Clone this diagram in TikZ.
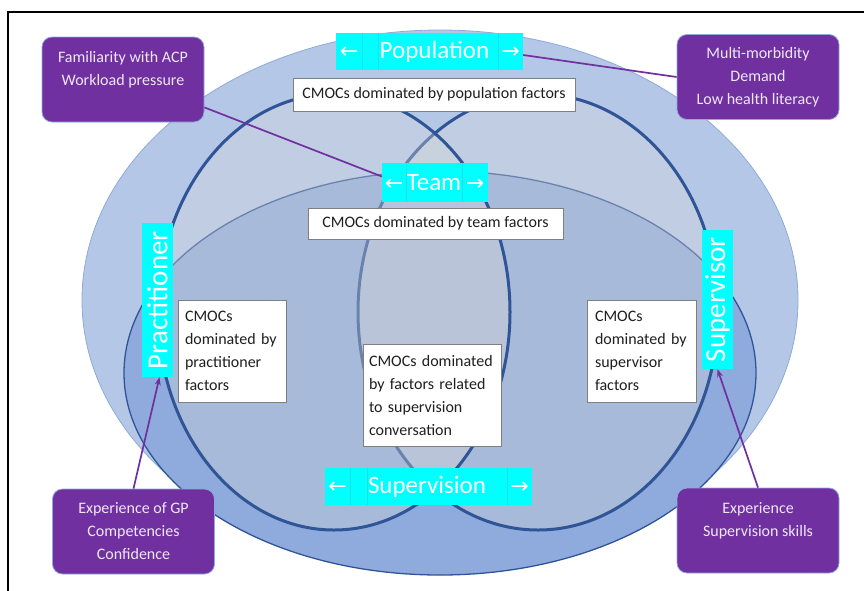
\documentclass[tikz,border=0pt]{standalone}
\usepackage{fontspec}
\setmainfont{Carlito}
\newfontfamily\arrowfont{DejaVu Sans}
\usetikzlibrary{arrows.meta}

\definecolor{popfill}{HTML}{B4C7E7}
\definecolor{popline}{HTML}{8EA9DB}
\definecolor{teamfill}{HTML}{8FAADC}
\definecolor{navy}{HTML}{2F5597}
\definecolor{veil}{HTML}{D9D9D9}
\definecolor{tag}{HTML}{00FFFF}
\definecolor{tagrule}{HTML}{1EE0E6}
\definecolor{plum}{HTML}{7030A0}
\definecolor{plumtext}{HTML}{EEE8F6}
\definecolor{boxrule}{HTML}{7F7F7F}

\newcommand{\larr}{{\arrowfont\fontsize{22}{22}\selectfont ←}}
\newcommand{\rarr}{{\arrowfont\fontsize{22}{22}\selectfont →}}

\begin{document}
\begin{tikzpicture}[x=1pt,y=-1pt,
  factor/.style={draw=popline, line width=0.8pt, fill=plum, rounded corners=10pt,
    text=plumtext, font=\fontsize{16}{23}\selectfont, align=center, inner sep=0pt,
    minimum width=162pt, minimum height=85pt},
  cmoc/.style={draw=boxrule, line width=0.8pt, fill=white, text=black!88,
    font=\fontsize{16}{23}\selectfont, inner sep=0pt},
  cmocpara/.style={cmoc, align=left, minimum height=102pt},
  tagbox/.style={fill=tag, text=white, inner sep=0pt, font=\fontsize{25}{25}\selectfont},
  divider/.style={draw=tagrule, line width=0.6pt},
  link/.style={draw=plum, line width=1.7pt},
  ring/.style={draw=navy, line width=3pt, fill=veil, fill opacity=0.35},
]
\useasboundingbox (0,0) rectangle (864,590);

% page frame
\draw[line width=1.8pt] (8,592) -- (8,12) -- (866,12);

% population, team and the two overlapping circles
\draw[fill=popfill, draw=popline, line width=0.8pt]
  (440,300) ellipse [x radius=358pt, y radius=270pt];
\draw[fill=teamfill, draw=navy, line width=1.3pt]
  (440,373) ellipse [x radius=316pt, y radius=202pt];
\draw[ring] (538,312) ellipse [x radius=180pt, y radius=218pt];
\draw[ring] (334,312) ellipse [x radius=176pt, y radius=218pt];

% CMOC boxes
\node[cmoc, minimum width=282pt, minimum height=33pt] (cpop) at (434,94.5)
  {CMOCs dominated by population factors};
\node[cmoc, minimum width=255pt, minimum height=31pt] (cteam) at (435.5,223.5)
  {CMOCs dominated by team factors};
\node[cmocpara, text width=94pt, inner xsep=7pt] (cprac) at (232,351)
  {CMOCs\\dominated by\\practitioner\\factors};
\node[cmocpara, text width=126pt, inner xsep=6pt] (cconv) at (432,395)
  {CMOCs dominated\\by factors related\\to supervision\\conversation};
\node[cmocpara, text width=93pt, inner xsep=8pt] (csup) at (641.5,351)
  {CMOCs\\dominated by\\supervisor\\factors};

% cyan level labels
\node[tagbox, minimum width=187pt, minimum height=37pt] (pop) at (429.5,51.5)
  {\makebox[26pt]{\larr}\makebox[16pt]{}\makebox[113pt]{Population}\makebox[7pt]{}\makebox[25pt]{\rarr}};
\foreach \d in {26,42,162}
  \draw[divider] ([xshift=\d pt]pop.north west) -- ([xshift=\d pt]pop.south west);

\node[tagbox, minimum width=106pt, minimum height=39pt] (team) at (435,182.5)
  {\makebox[24pt]{\larr}\makebox[56pt]{Team}\makebox[26pt]{\rarr}};
\foreach \d in {24,80}
  \draw[divider] ([xshift=\d pt]team.north west) -- ([xshift=\d pt]team.south west);

\node[tagbox, minimum width=207pt, minimum height=37pt] (supv) at (428.5,486.5)
  {\makebox[25pt]{\larr}\makebox[17pt]{}\makebox[120pt]{Supervision}\makebox[20pt]{}\makebox[25pt]{\rarr}};
\foreach \d in {25,42,182}
  \draw[divider] ([xshift=\d pt]supv.north west) -- ([xshift=\d pt]supv.south west);

\node[tagbox, minimum width=31pt, minimum height=154pt] (prac) at (157.5,300)
  {\rotatebox{90}{\fontsize{29}{29}\selectfont Practitioner}};
\node[tagbox, minimum width=31pt, minimum height=139pt] (svr) at (717.5,299.5)
  {\rotatebox{90}{\fontsize{29}{29}\selectfont Supervisor}};

% purple factor boxes
\node[factor] (fam) at (123,79.5) {Familiarity with ACP\\Workload pressure\\~};
\node[factor] (mm) at (758,77) {Multi-morbidity\\Demand\\Low health literacy};
\node[factor] (gp) at (133.5,531.5) {Experience of GP\\Competencies\\Confidence};
\node[factor] (sk) at (758,530.5) {Experience\\Supervision skills\\~};

% links from factor boxes to their levels
\draw[link] ([yshift=15pt]fam.south east) -- ([yshift=6pt]team.west);
\draw[link] (mm.west) -- ([yshift=-3.5pt]pop.east);
\draw[link, -{Stealth[length=8pt,width=6pt]}] (gp.north) -- ([xshift=2pt]prac.south);
\draw[link, -{Stealth[length=8pt,width=6pt]}] (sk.north) -- (svr.south);
\end{tikzpicture}
\end{document}
